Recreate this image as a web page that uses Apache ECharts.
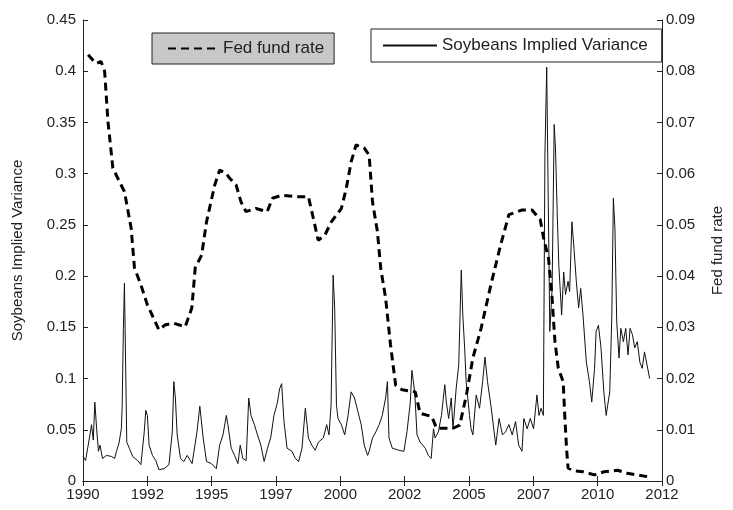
<!DOCTYPE html>
<html><head><meta charset="utf-8">
<script src="https://cdn.jsdelivr.net/npm/echarts@6/dist/echarts.min.js"></script>
<style>html,body{margin:0;padding:0;background:#fff}#c{width:733px;height:510px}</style>
</head><body><div id="c"></div>
<script>
// Soybeans implied variance (left axis)
var varYears = [1990.0,1990.1,1990.27,1990.33,1990.4,1990.46,1990.53,1990.6,1990.66,1990.76,1990.91,1991.1,1991.23,1991.3,1991.4,1991.49,1991.52,1991.57,1991.61,1991.65,1991.7,1991.8,1991.93,1992.12,1992.25,1992.38,1992.44,1992.5,1992.57,1992.7,1992.83,1992.95,1993.15,1993.34,1993.47,1993.53,1993.59,1993.66,1993.79,1993.92,1994.05,1994.24,1994.43,1994.54,1994.67,1994.8,1994.99,1995.18,1995.31,1995.44,1995.57,1995.63,1995.76,1995.89,1996.02,1996.11,1996.21,1996.34,1996.44,1996.53,1996.66,1996.78,1996.91,1997.04,1997.17,1997.3,1997.42,1997.55,1997.64,1997.72,1997.81,1997.93,1998.12,1998.25,1998.38,1998.51,1998.64,1998.76,1998.89,1999.02,1999.15,1999.34,1999.47,1999.56,1999.64,1999.72,1999.78,1999.85,1999.91,2000.04,2000.17,2000.3,2000.42,2000.55,2000.68,2000.81,2000.93,2001.06,2001.12,2001.25,2001.38,2001.51,2001.63,2001.76,2001.83,2001.89,2002.02,2002.27,2002.47,2002.59,2002.72,2002.78,2002.89,2002.98,2003.1,2003.3,2003.42,2003.53,2003.62,2003.68,2003.81,2003.93,2004.06,2004.12,2004.21,2004.31,2004.38,2004.5,2004.6,2004.7,2004.76,2004.83,2004.89,2005.02,2005.08,2005.15,2005.28,2005.41,2005.53,2005.62,2005.72,2005.85,2006.04,2006.17,2006.3,2006.42,2006.55,2006.68,2006.81,2006.93,2007.06,2007.13,2007.26,2007.38,2007.51,2007.64,2007.72,2007.8,2007.89,2007.95,2008.02,2008.08,2008.14,2008.23,2008.31,2008.36,2008.43,2008.49,2008.6,2008.68,2008.75,2008.85,2008.91,2009.0,2009.08,2009.17,2009.26,2009.34,2009.43,2009.56,2009.68,2009.77,2009.88,2009.94,2010.03,2010.13,2010.24,2010.33,2010.39,2010.47,2010.55,2010.61,2010.67,2010.74,2010.83,2010.9,2011.0,2011.09,2011.18,2011.26,2011.35,2011.44,2011.54,2011.64,2011.73,2011.82,2011.92,2012.02];
var varValues = [0.024,0.020,0.045,0.055,0.040,0.077,0.051,0.029,0.035,0.022,0.025,0.024,0.022,0.029,0.037,0.051,0.071,0.149,0.193,0.126,0.038,0.032,0.024,0.020,0.016,0.048,0.069,0.064,0.035,0.025,0.020,0.011,0.012,0.016,0.048,0.097,0.081,0.045,0.022,0.019,0.025,0.017,0.048,0.073,0.042,0.019,0.017,0.012,0.035,0.045,0.064,0.055,0.032,0.025,0.017,0.035,0.022,0.020,0.081,0.064,0.055,0.045,0.035,0.019,0.032,0.043,0.064,0.076,0.090,0.095,0.058,0.032,0.029,0.022,0.019,0.032,0.071,0.042,0.035,0.030,0.038,0.042,0.055,0.045,0.074,0.201,0.169,0.074,0.061,0.055,0.045,0.064,0.087,0.081,0.068,0.055,0.035,0.025,0.029,0.042,0.048,0.055,0.064,0.081,0.097,0.042,0.032,0.030,0.029,0.048,0.077,0.108,0.087,0.045,0.038,0.032,0.025,0.022,0.051,0.042,0.048,0.064,0.094,0.077,0.061,0.081,0.051,0.090,0.113,0.206,0.162,0.130,0.097,0.064,0.051,0.045,0.084,0.071,0.097,0.121,0.097,0.074,0.035,0.061,0.045,0.048,0.055,0.045,0.058,0.035,0.029,0.061,0.051,0.061,0.051,0.084,0.064,0.071,0.064,0.318,0.404,0.273,0.146,0.188,0.348,0.325,0.260,0.211,0.162,0.204,0.182,0.195,0.185,0.253,0.227,0.195,0.169,0.188,0.162,0.116,0.097,0.077,0.110,0.146,0.152,0.130,0.087,0.064,0.074,0.087,0.162,0.276,0.247,0.156,0.120,0.149,0.136,0.149,0.123,0.149,0.143,0.130,0.136,0.116,0.110,0.126,0.113,0.100];
// Fed fund rate (right axis)
var fedYears = [1990.2,1990.5,1990.7,1990.84,1990.97,1991.16,1991.42,1991.61,1991.87,1992.0,1992.25,1992.5,1992.63,1992.95,1993.2,1993.52,1993.97,1994.23,1994.36,1994.61,1994.8,1995.12,1995.31,1995.57,1995.7,1995.95,1996.14,1996.33,1996.72,1997.16,1997.36,1997.74,1998.25,1998.76,1998.95,1999.14,1999.4,1999.65,2000.04,2000.23,2000.42,2000.61,2000.93,2001.12,2001.25,2001.44,2001.57,2001.76,2001.95,2002.15,2002.4,2002.91,2003.1,2003.55,2003.74,2004.38,2004.64,2004.9,2005.15,2005.47,2005.85,2006.23,2006.55,2007.06,2007.45,2007.77,2007.9,2008.09,2008.22,2008.34,2008.47,2008.66,2008.72,2008.79,2008.85,2009.1,2009.43,2009.87,2010.25,2010.77,2011.15,2011.53,2011.98];
var fedValues = [0.0832,0.0815,0.0819,0.0800,0.0702,0.0611,0.0584,0.0565,0.0494,0.0416,0.0383,0.0344,0.0330,0.0295,0.0305,0.0308,0.0301,0.0338,0.0416,0.0441,0.0506,0.0578,0.0607,0.0600,0.0591,0.0578,0.0545,0.0526,0.0532,0.0526,0.0552,0.0558,0.0555,0.0555,0.0513,0.0470,0.0480,0.0506,0.0532,0.0571,0.0623,0.0656,0.0650,0.0636,0.0545,0.0487,0.0415,0.0357,0.0266,0.0187,0.0178,0.0174,0.0132,0.0126,0.0103,0.0103,0.0109,0.0168,0.0240,0.0298,0.0383,0.0461,0.0520,0.0529,0.0529,0.0510,0.0474,0.0435,0.0363,0.0272,0.0220,0.0194,0.0129,0.0064,0.0025,0.0020,0.0018,0.0012,0.0018,0.0021,0.0015,0.0012,0.0008];
var xTickMin = 1990, xTickMax = 2012.5, xTickStep = 2.5;

var FONT = "'Liberation Sans',Arial,sans-serif";
function pairs(xs, ys){ return xs.map(function(x,i){ return [x, ys[i]]; }); }
function fmt(v){ return String(parseFloat(v.toFixed(3))); }

var chart = echarts.init(document.getElementById('c'), null, {renderer:'canvas'});
var axisLine = {show:true, lineStyle:{color:'#222', width:1}};
var tick = {show:true, inside:true, length:5, lineStyle:{color:'#222'}};
var lbl = {color:'#222', fontFamily:FONT, fontSize:15};
chart.setOption({
  backgroundColor:'#fff',
  animation:false,
  grid:{left:83, right:63, top:20, bottom:29, show:false},
  legend:[
    {data:['Fed fund rate'], left:152, top:33, padding:[7,10,7,15],
     backgroundColor:'#c8c8c8', borderColor:'#222', borderWidth:1, borderRadius:0,
     itemWidth:50, itemHeight:12, itemGap:0, itemStyle:{opacity:0},
     textStyle:{color:'#222', fontFamily:FONT, fontSize:17}},
    {data:['Soybeans Implied Variance'], left:371, top:29, padding:[8,14,8,11],
     backgroundColor:'#fff', borderColor:'#222', borderWidth:1, borderRadius:0,
     itemWidth:54, itemHeight:12, itemGap:0, itemStyle:{opacity:0},
     textStyle:{color:'#222', fontFamily:FONT, fontSize:17}}
  ],
  xAxis:[
    {type:'value', min:xTickMin, max:xTickMax, interval:xTickStep, position:'bottom',
     axisLine:axisLine, axisTick:tick, splitLine:{show:false},
     axisLabel:Object.assign({margin:6, formatter:function(v){return String(Math.floor(v));}}, lbl)},
    {type:'value', min:xTickMin, max:xTickMax, interval:xTickStep, position:'top',
     axisLine:axisLine, axisTick:tick, splitLine:{show:false}, axisLabel:{show:false}}
  ],
  yAxis:[
    {type:'value', min:0, max:0.45, interval:0.05, position:'left',
     name:'Soybeans Implied Variance', nameLocation:'middle', nameGap:58, nameRotate:90,
     nameTextStyle:{color:'#222', fontFamily:FONT, fontSize:15},
     axisLine:axisLine, axisTick:tick, splitLine:{show:false},
     axisLabel:Object.assign({margin:7, formatter:fmt}, lbl)},
    {type:'value', min:0, max:0.09, interval:0.01, position:'right',
     name:'Fed fund rate', nameLocation:'middle', nameGap:48, nameRotate:90,
     nameTextStyle:{color:'#222', fontFamily:FONT, fontSize:15},
     axisLine:axisLine, axisTick:tick, splitLine:{show:false},
     axisLabel:Object.assign({margin:4, formatter:fmt}, lbl)}
  ],
  series:[
    {name:'Soybeans Implied Variance', type:'line', yAxisIndex:0, xAxisIndex:0,
     data:pairs(varYears, varValues), symbol:'none', showSymbol:false,
     lineStyle:{color:'#111', width:1}, itemStyle:{color:'#111'}, z:2},
    {name:'Fed fund rate', type:'line', yAxisIndex:1, xAxisIndex:0,
     data:pairs(fedYears, fedValues), symbol:'none', showSymbol:false,
     lineStyle:{color:'#000', width:3, type:[8,5]}, itemStyle:{color:'#000'}, z:3}
  ]
});
</script>
</body></html>
